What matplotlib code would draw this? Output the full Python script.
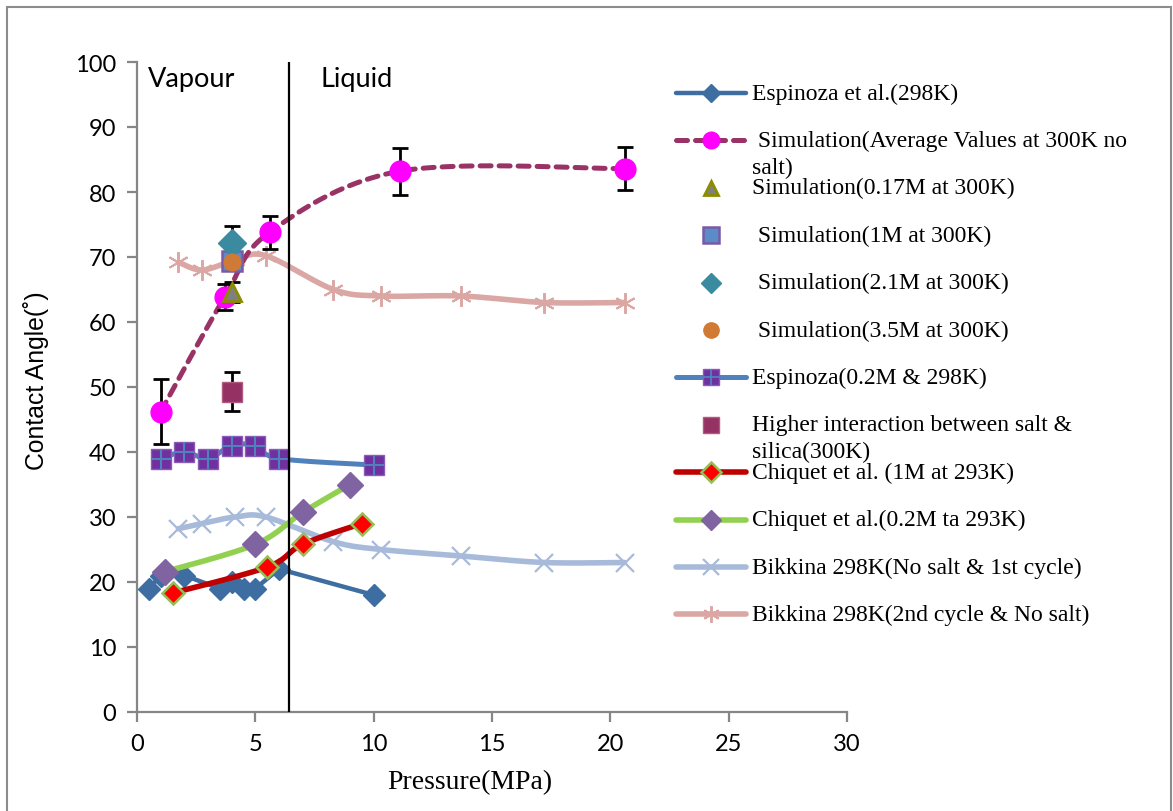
import numpy as np
import matplotlib
matplotlib.use('Agg')
import matplotlib.pyplot as plt
from matplotlib.lines import Line2D
from matplotlib.patches import Rectangle

# ------------------------------
# Data
# ------------------------------
esp_x = [0.5, 1.0, 2.0, 3.5, 4.0, 4.5, 5.0, 6.0, 10.0]
esp_y = [19, 21, 21, 19, 20, 19, 19, 22, 18]

sim_x = [1.0, 3.7, 5.6, 11.1, 20.6]
sim_y = [46.2, 63.8, 73.8, 83.2, 83.6]
sim_err = [5.0, 2.0, 2.5, 3.6, 3.3]

s017_x, s017_y, s017_err = [4.0], [64.6], [1.5]
s1m_x, s1m_y = [4.0], [69.4]
s21_x, s21_y, s21_err = [4.0], [72.2], [2.5]
s35_x, s35_y = [4.0], [69.2]
hi_x, hi_y, hi_err = [4.0], [49.3], [3.0]

esp02_x = [1.0, 2.0, 3.0, 4.0, 5.0, 6.0, 10.0]
esp02_y = [39, 40, 39, 41, 41, 39, 38]

chq1_x = [1.5, 5.5, 7.0, 9.5]
chq1_y = [18.3, 22.3, 25.8, 29.0]

chq02_x = [1.2, 5.0, 7.0, 9.0]
chq02_y = [21.6, 25.8, 30.7, 35.0]

bk1_x = [1.75, 2.75, 4.15, 5.45, 8.3, 10.3, 13.7, 17.2, 20.6]
bk1_y = [28.2, 29.0, 30.0, 30.0, 26.2, 25.0, 24.0, 23.0, 23.0]

bk2_x = [1.75, 2.75, 4.15, 5.45, 8.3, 10.3, 13.7, 17.2, 20.6]
bk2_y = [69.2, 68.0, 69.5, 70.2, 65.0, 64.0, 64.0, 63.0, 63.0]

phase_boundary = 6.42

legend_labels = [
    ['Espinoza et al.(298K)'],
    [' Simulation(Average Values at 300K no', 'salt)'],
    ['Simulation(0.17M at 300K)'],
    [' Simulation(1M at 300K)'],
    [' Simulation(2.1M at 300K)'],
    [' Simulation(3.5M at 300K)'],
    ['Espinoza(0.2M & 298K)'],
    ['Higher interaction between salt &', 'silica(300K)'],
    ['Chiquet et al. (1M at 293K)'],
    ['Chiquet et al.(0.2M ta 293K)'],
    ['Bikkina 298K(No salt & 1st cycle)'],
    ['Bikkina 298K(2nd cycle & No salt)'],
]


def smooth(x, y, steps=24):
    # Excel-style smoothed line (cubic bezier through the points)
    x = np.asarray(x, float)
    y = np.asarray(y, float)
    pts = np.column_stack([x, y])
    out = [pts[:1]]
    n = len(pts)
    t = np.linspace(0, 1, steps)[1:, None]
    for i in range(n - 1):
        p0 = pts[max(i - 1, 0)]
        p1 = pts[i]
        p2 = pts[i + 1]
        p3 = pts[min(i + 2, n - 1)]
        c1 = p1 + (p2 - p0) / 6.0
        c2 = p2 - (p3 - p1) / 6.0
        seg = ((1 - t) ** 3) * p1 + 3 * ((1 - t) ** 2) * t * c1 \
            + 3 * (1 - t) * t ** 2 * c2 + t ** 3 * p2
        out.append(seg)
    arr = np.vstack(out)
    return arr[:, 0], arr[:, 1]


W, H = 1173, 812
fig = plt.figure(figsize=(W / 100, H / 100), dpi=100)
ax = fig.add_axes([137 / W, 1 - 713 / H, (847 - 137) / W, (713 - 63) / H])

tick_font = 'Lato'
serif = 'Liberation Serif'
gray = '#868686'

# colours
c_esp = '#3E6DA1'
c_sim_line = '#993366'
c_esp02_line = '#4F81BD'
c_esp02_mk = '#7030A0'
c_chq1_line = '#C00000'
c_chq02_line = '#92D050'
c_chq02_mk = '#8064A2'
c_bk1 = '#A7BADA'
c_bk2 = '#DAA7A4'

# Bikkina curves (drawn underneath)
sx, sy = smooth(bk1_x, bk1_y)
ax.plot(sx, sy, color=c_bk1, lw=4, zorder=2, solid_capstyle='round')
ax.plot(bk1_x, bk1_y, ls='none', marker='x', ms=13, mew=1.6, color=c_bk1, zorder=2)
sx, sy = smooth(bk2_x, bk2_y)
ax.plot(sx, sy, color=c_bk2, lw=4, zorder=2, solid_capstyle='round')
ax.plot(bk2_x, bk2_y, ls='none', marker=(6, 2, 0), ms=15, mew=1.4, color=c_bk2, zorder=2)

# Espinoza et al. 298K
ax.plot(esp_x, esp_y, color=c_esp, lw=3.2, marker='D', ms=11, mec=c_esp, mfc=c_esp, zorder=3)

# Simulation average (dashed, smoothed)
sx, sy = smooth(sim_x, sim_y)
ax.plot(sx, sy, color=c_sim_line, lw=3.6, ls=(0, (2.2, 1.6)), zorder=3, dash_capstyle='round')
ax.errorbar(sim_x, sim_y, yerr=sim_err, fmt='none', ecolor='black', elinewidth=2, capsize=6, capthick=2, zorder=4)
ax.plot(sim_x, sim_y, ls='none', marker='o', ms=15, mfc='#FF00FF', mec='#FF00FF', zorder=5)

# Espinoza 0.2M
sx, sy = smooth(esp02_x, esp02_y)
ax.plot(sx, sy, color=c_esp02_line, lw=3.6, zorder=3)
ax.plot(esp02_x, esp02_y, ls='none', marker='s', ms=15, mfc=c_esp02_mk, mec='#8A5CB8', mew=1, zorder=3)
ax.plot(esp02_x, esp02_y, ls='none', marker='+', ms=15, mew=1.5, color=c_esp02_line, zorder=3)

# Chiquet 1M
sx, sy = smooth(chq1_x, chq1_y)
ax.plot(sx, sy, color=c_chq1_line, lw=4, zorder=3)
ax.plot(chq1_x, chq1_y, ls='none', marker='D', ms=11, mfc='#FF0000', mec='#9BBB59', mew=1.8, zorder=3)

# Chiquet 0.2M
sx, sy = smooth(chq02_x, chq02_y)
ax.plot(sx, sy, color=c_chq02_line, lw=4, zorder=3)
ax.plot(chq02_x, chq02_y, ls='none', marker='D', ms=13, mfc=c_chq02_mk, mec=c_chq02_mk, zorder=3)

# single simulation points with error bars
ax.errorbar(s017_x, s017_y, yerr=s017_err, fmt='none', ecolor='black', elinewidth=2, capsize=6, capthick=2, zorder=4)
ax.errorbar(s21_x, s21_y, yerr=s21_err, fmt='none', ecolor='black', elinewidth=2, capsize=6, capthick=2, zorder=4)
ax.errorbar(hi_x, hi_y, yerr=hi_err, fmt='none', ecolor='black', elinewidth=2, capsize=6, capthick=2, zorder=4)
ax.plot(s017_x, s017_y, ls='none', marker='^', ms=13, mfc='#808080', mec='#8C8C00', mew=2, zorder=5)
ax.plot(s1m_x, s1m_y, ls='none', marker='s', ms=15, mfc='#5B8CC8', mec='#7A5AA8', mew=1.8, zorder=5)
ax.plot(s21_x, s21_y, ls='none', marker='D', ms=14, mfc='#3A8AA0', mec='#3A8AA0', zorder=6)
ax.plot(s35_x, s35_y, ls='none', marker='o', ms=12, mfc='#D07A35', mec='#D07A35', zorder=6)
ax.plot(hi_x, hi_y, ls='none', marker='s', ms=15, mfc='#953163', mec='#B05A84', mew=1, zorder=5)

# vapour / liquid boundary
ax.axvline(phase_boundary, color='black', lw=1.6, zorder=3)
ax.text(0.45, 97.5, 'Vapour', fontsize=19.5, family=tick_font, va='center', ha='left')
ax.text(7.75, 97.5, 'Liquid', fontsize=19.5, family=tick_font, va='center', ha='left')

# axes styling
ax.set_xlim(0, 30)
ax.set_ylim(0, 100)
ax.set_xticks(np.arange(0, 31, 5))
ax.set_yticks(np.arange(0, 101, 10))
for s in ['top', 'right']:
    ax.spines[s].set_visible(False)
for s in ['left', 'bottom']:
    ax.spines[s].set_color(gray)
    ax.spines[s].set_linewidth(1.6)
ax.tick_params(direction='out', length=7, width=1.6, color=gray, labelsize=17, pad=8)
for lab in ax.get_xticklabels() + ax.get_yticklabels():
    lab.set_family(tick_font)

fig.text(470 / W, 1 - 783 / H, 'Pressure(MPa)', fontsize=20, family=serif, ha='center', va='center')
fig.text(36 / W, 1 - 381 / H, 'Contact Angle(˚)', fontsize=17.8, family=['Liberation Sans', 'DejaVu Sans'],
         rotation=90, ha='center', va='center')

# ------------------------------
# Legend (drawn by hand, Excel style fixed row spacing)
# ------------------------------
lax = fig.add_axes([0, 0, 1, 1], facecolor='none')
lax.set_xlim(0, W)
lax.set_ylim(H, 0)
lax.axis('off')

handles = [
    dict(color=c_esp, lw=3.2, marker='D', ms=9, mfc=c_esp, mec=c_esp),
    dict(color=c_sim_line, lw=3.6, ls=(0, (2.2, 1.6)), marker='o', ms=12, mfc='#FF00FF', mec='#FF00FF'),
    dict(ls='none', marker='^', ms=10, mfc='#808080', mec='#8C8C00', mew=2),
    dict(ls='none', marker='s', ms=12, mfc='#5B8CC8', mec='#7A5AA8', mew=1.8),
    dict(ls='none', marker='D', ms=10, mfc='#3A8AA0', mec='#3A8AA0'),
    dict(ls='none', marker='o', ms=11, mfc='#D07A35', mec='#D07A35'),
    dict(color=c_esp02_line, lw=3.6, marker='s', ms=11, mfc=c_esp02_mk, mec='#8A5CB8', mew=1),
    dict(ls='none', marker='s', ms=12, mfc='#953163', mec='#B05A84', mew=1),
    dict(color=c_chq1_line, lw=4, marker='D', ms=10, mfc='#FF0000', mec='#9BBB59', mew=1.8),
    dict(color=c_chq02_line, lw=4, marker='D', ms=10, mfc=c_chq02_mk, mec=c_chq02_mk),
    dict(color=c_bk1, lw=4, marker='x', ms=11, mew=1.6, mfc=c_bk1, mec=c_bk1),
    dict(color=c_bk2, lw=4, marker=(6, 2, 0), ms=12, mew=1.4, mfc=c_bk2, mec=c_bk2),
]

row0, row_step = 94, 47.4
for i, (h, labels) in enumerate(zip(handles, legend_labels)):
    yy = row0 + i * row_step
    line_kw = {k: v for k, v in h.items() if k not in ('marker', 'ms', 'mfc', 'mec', 'mew')}
    if line_kw.get('ls') != 'none':
        lax.add_line(Line2D([676, 746], [yy, yy], solid_capstyle='round', dash_capstyle='round', **line_kw))
    mk_kw = {k: v for k, v in h.items() if k in ('marker', 'ms', 'mfc', 'mec', 'mew', 'color')}
    lax.add_line(Line2D([711], [yy], ls='none', **mk_kw))
    if i == 6:
        lax.add_line(Line2D([711], [yy], ls='none', marker='+', ms=11, mew=1.3, color=c_esp02_line))
    for j, txt in enumerate(labels):
        lax.text(752, yy + j * 27, txt, fontsize=17, family=serif, ha='left', va='center')

# chart area border
fig.patches.append(Rectangle((7 / W, -0.02), (1171 - 7) / W, (H - 8) / H + 0.02,
                             transform=fig.transFigure, fill=False, edgecolor='#8C8C8C', lw=1.5))

fig.savefig('out.png', dpi=100)
